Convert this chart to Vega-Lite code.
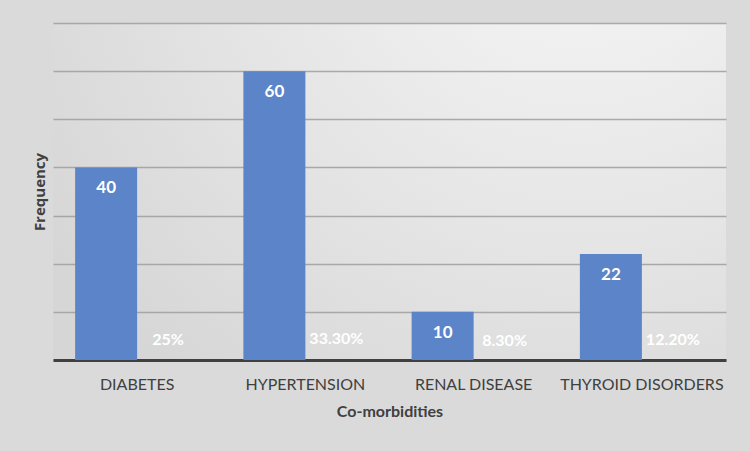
{
  "$schema": "https://vega.github.io/schema/vega-lite/v6.json",
  "width": 673,
  "height": 337,
  "padding": {"left": 53, "top": 23, "right": 24, "bottom": 91},
  "autosize": {"type": "none"},
  "background": "#dadada",
  "config": {
    "view": {
      "stroke": null,
      "fill": {
        "gradient": "radial",
        "x1": 0.78, "y1": 0.05, "x2": 0.78, "y2": 0.05, "r1": 0, "r2": 0.95,
        "stops": [
          {"offset": 0, "color": "#f8f8f8"},
          {"offset": 1, "color": "#d6d6d6"}
        ]
      }
    },
    "font": "Lato"
  },
  "data": {
    "values": [
      {"cat": "DIABETES", "series": "Frequency", "value": 40, "label": "40"},
      {"cat": "DIABETES", "series": "Percentage", "value": 0.25, "label": "25%"},
      {"cat": "HYPERTENSION", "series": "Frequency", "value": 60, "label": "60"},
      {"cat": "HYPERTENSION", "series": "Percentage", "value": 0.333, "label": "33.30%"},
      {"cat": "RENAL DISEASE", "series": "Frequency", "value": 10, "label": "10"},
      {"cat": "RENAL DISEASE", "series": "Percentage", "value": 0.083, "label": "8.30%"},
      {"cat": "THYROID DISORDERS", "series": "Frequency", "value": 22, "label": "22"},
      {"cat": "THYROID DISORDERS", "series": "Percentage", "value": 0.122, "label": "12.20%"}
    ]
  },
  "encoding": {
    "x": {
      "field": "cat", "type": "nominal", "sort": null,
      "scale": {"paddingInner": 0.263, "paddingOuter": 0.1315},
      "axis": {
        "title": "Co-morbidities", "labelAngle": 0, "ticks": false,
        "labelFont": "Lato", "labelFontSize": 16, "labelColor": "#404040", "labelPadding": 16,
        "titleFont": "Lato", "titleFontSize": 16, "titleFontWeight": "bold", "titleColor": "#404040", "titlePadding": 11,
        "domainColor": "#404040", "domainWidth": 3
      }
    },
    "xOffset": {"field": "series", "type": "nominal", "scale": {"paddingInner": 0, "paddingOuter": 0}},
    "y": {
      "field": "value", "type": "quantitative",
      "scale": {"domain": [0, 70], "nice": false},
      "axis": {
        "title": "Frequency", "values": [0, 10, 20, 30, 40, 50, 60, 70],
        "labels": false, "ticks": false, "domain": false,
        "gridColor": "#9e9e9e", "gridWidth": 1.5, "gridOpacity": 0.85,
        "titleFont": "Open Sans", "titleFontSize": 15, "titleFontWeight": "bold", "titleColor": "#404040", "titlePadding": 6
      }
    }
  },
  "layer": [
    {
      "mark": {"type": "bar"},
      "encoding": {
        "color": {
          "field": "series", "type": "nominal", "legend": null,
          "scale": {"domain": ["Frequency", "Percentage"], "range": ["#5b84c9", "rgba(0,0,0,0)"]}
        }
      }
    },
    {
      "transform": [{"filter": "datum.series === 'Frequency'"}],
      "mark": {"type": "text", "color": "white", "fontWeight": "bold", "fontSize": 17, "font": "Lato", "baseline": "middle", "dy": 21},
      "encoding": {"text": {"field": "label"}}
    },
    {
      "transform": [{"filter": "datum.series === 'Percentage'"}],
      "mark": {"type": "text", "color": "white", "fontWeight": "bold", "fontSize": 16, "font": "Lato", "baseline": "middle", "dy": -19},
      "encoding": {"text": {"field": "label"}}
    }
  ]
}
